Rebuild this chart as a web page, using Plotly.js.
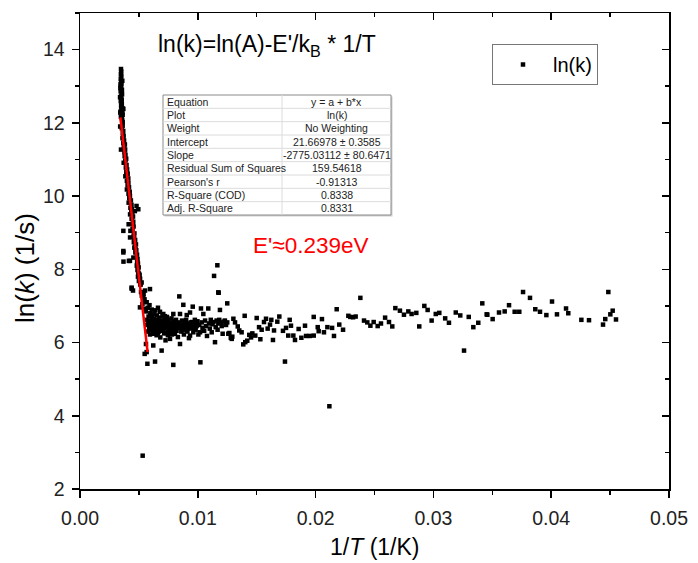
<!DOCTYPE html>
<html>
<head>
<meta charset="utf-8">
<script src="https://cdn.plot.ly/plotly-3.0.1.min.js"></script>
<style>html,body{margin:0;padding:0;background:#fff}#chart{width:698px;height:563px}</style>
</head>
<body>
<div id="chart"></div>
<script>
// ---------- data ----------
// steep region (x = 1/T in 1/K, y = ln k)
const steepX = [0.00348,0.00350,0.00347,0.00351,0.00346,0.00349,0.00352,0.00347,0.00350,0.00345,0.00353,0.00348,0.00351,0.00346,0.00355,0.00349,0.00368,0.00352,0.00345,0.00360,0.00362,0.00347,0.00355,0.00358,0.00352,0.00356,0.00344,0.00354,
0.00358,0.00362,0.00355,0.00367,0.00363,0.00370,0.00361,0.00374,0.00368,0.00381,0.00372,0.00383,0.00348,0.00377,0.00386,0.00379,0.00392,0.00384,0.00371,0.00395,0.00389,0.00400,0.00393,0.00404,0.00385,0.00410,0.00398,0.00411,0.00404,0.00416,0.00398,0.00421,0.00412,0.00424,0.00418,0.00432,0.00413,0.00437,0.00480,0.00428,0.00439,0.00466,0.00444,0.00425,0.00450,0.00438,0.00452,0.00413,0.00455,0.00446,0.00428,0.00462,0.00455,0.00425,0.00468,0.00457,0.00475,0.00466,0.00462,0.00478,0.00368,0.00470,0.00484,0.00453,0.00488,0.00415,0.00369,0.00492,0.00482,0.00498,0.00488,0.00495,0.00506,0.00492,0.00510,0.00500,0.00523,0.00514,0.00438,0.00594,0.00450,0.00552,0.00518,0.00540,0.00525,0.00536,0.00548,0.00566,0.00530,0.00509,0.00545,
0.00368,0.00424,0.00495,0.00368,0.00439,0.00365,0.00375,0.00388,0.00402,0.00420,0.00435,0.00447,0.00460,0.00472,0.00485,0.00500,0.00512,0.00528,0.00542,0.00556,
0.00357,0.00340,0.00361,0.00343,0.00359,0.00342,0.00362,0.00341];
const steepY = [13.47,13.40,13.33,13.27,13.20,13.13,13.06,12.99,12.93,12.86,12.80,12.72,12.66,12.59,12.52,12.45,12.38,12.36,12.31,12.27,12.22,12.17,12.13,12.08,12.55,12.90,13.05,12.62,
12.00,11.92,11.85,11.78,11.72,11.65,11.58,11.52,11.45,11.41,11.35,11.27,11.27,11.20,11.13,11.09,11.02,10.95,10.91,10.85,10.78,10.73,10.66,10.60,10.54,10.48,10.42,10.36,10.30,10.24,10.18,10.12,10.06,10.00,9.94,9.88,9.82,9.76,9.73,9.68,9.64,9.59,9.55,9.50,9.44,9.38,9.30,9.23,9.17,9.10,9.05,8.98,8.92,8.87,8.80,8.74,8.68,8.62,8.59,8.52,8.46,8.46,8.40,8.32,8.28,8.23,8.21,8.16,8.10,8.05,7.98,7.91,7.85,7.80,7.74,7.68,7.64,7.58,7.50,7.46,7.42,7.42,7.38,7.32,7.28,7.23,7.18,7.10,7.05,6.96,6.92,
8.50,8.23,9.64,9.05,7.47,11.62,11.30,11.00,10.62,10.10,9.62,9.25,8.85,8.55,8.20,7.88,7.60,7.30,7.12,6.88,
12.78,12.70,12.40,12.95,13.15,12.28,12.02,11.90];

// dense cluster just after the knee
const clusterX = [0.00560,0.00565,0.00571,0.00575,0.00578,0.00582,0.00585,0.00588,0.00590,0.00594,0.00597,0.00600,0.00603,0.00606,0.00609,0.00612,0.00615,0.00618,0.00622,0.00622,0.00625,0.00628,0.00631,0.00634,0.00637,0.00640,0.00643,0.00646,0.00650,0.00653,0.00656,0.00659,0.00662,0.00665,0.00668,0.00672,0.00675,0.00679,0.00682,0.00685,0.00688,0.00693,0.00696,0.00700,0.00703,0.00707,0.00710,0.00714,0.00718,0.00722,0.00726,0.00730,0.00734,0.00738,0.00742,0.00746,0.00750,0.00755,0.00760,0.00764,0.00768,0.00772,0.00777,0.00781,0.00786,0.00792,0.00796,0.00800,0.00806,0.00810,0.00815,0.00820,0.00826,0.00831,0.00837,0.00843,0.00849,0.00849,0.00854,0.00860,0.00866,0.00871,0.00877,0.00882,0.00888,0.00895,0.00901,0.00906,0.00912,0.00918,0.00925,0.00934,0.00934,0.00940,0.00947,0.00957,0.00962,0.00968,0.00975,0.00982,0.00990,0.00997,0.01005,0.01012,0.01019,0.01027,0.01033,0.01040,0.01047,0.01054,0.01062,0.01070,0.01078,0.01089,0.01095,0.01102,0.01110,0.01118,0.01125,0.01133,0.01146,0.01152,0.01160,0.01168,0.01174,0.01174,0.01182,0.01188,0.01195,0.01203,0.01211,0.01220,0.01230,0.01240,0.01250,0.01259,0.01268,0.01280,0.01288,0.01293,
0.00580,0.00592,0.00601,0.00611,0.00620,0.00630,0.00641,0.00652,0.00661,0.00671,0.00680,0.00691,0.00701,0.00712,0.00720,0.00732,0.00741,0.00752,0.00762,0.00775,0.00788,0.00799,0.00812,0.00825,0.00838,0.00852,0.00865,0.00880,0.00893,0.00908,0.00922,0.00938,0.00952,0.00966,0.00980];
const clusterY = [6.85,6.62,6.48,6.95,6.30,6.71,6.55,6.40,7.02,6.22,6.80,6.60,6.45,6.35,6.90,6.70,6.52,6.28,6.24,5.92,6.65,6.42,6.78,6.56,6.33,6.88,6.47,6.62,6.20,6.74,6.38,6.55,6.95,6.44,6.30,6.68,6.50,6.84,6.14,6.40,6.60,5.78,6.48,6.72,6.35,6.78,6.52,6.25,6.62,6.42,6.06,6.58,6.38,6.70,6.48,6.20,6.62,6.44,6.30,6.10,6.55,6.40,6.66,6.22,6.50,6.78,6.35,6.58,6.24,6.45,6.62,6.32,6.52,6.15,6.40,7.26,6.78,5.96,6.48,6.30,6.60,6.38,7.03,6.22,6.50,6.42,6.62,6.75,6.30,6.48,6.12,6.82,6.19,6.55,6.40,6.98,6.28,6.50,6.62,6.35,6.45,6.58,6.22,6.48,6.28,6.93,6.55,6.40,6.78,6.32,6.60,6.45,6.18,6.93,6.52,6.38,6.62,6.28,6.50,6.56,6.01,6.42,6.60,6.35,7.37,6.52,6.62,6.89,6.55,6.45,6.24,6.57,6.60,6.48,7.07,6.24,6.26,6.13,6.10,6.16,
6.58,6.38,6.75,6.44,6.58,6.28,6.52,6.46,6.25,6.36,6.58,6.32,6.55,6.40,6.72,6.26,6.55,6.34,6.50,6.32,6.42,6.48,6.36,6.42,6.55,6.40,6.48,6.55,6.35,6.52,6.38,6.46,6.56,6.40,6.52];

// sparse tail towards low temperature
const tailX = [0.01166,0.01138,0.01177,0.01398,0.01740,0.02179,0.02380,0.01984,0.02054,0.03260,0.03415,0.03452,0.02923,0.02951,0.02677,0.02716,0.02750,0.02787,0.02815,0.02855,0.02880,0.02985,0.03020,0.03050,0.03100,0.03132,0.03190,0.03228,0.03300,0.03339,0.03381,0.02278,0.02295,0.02318,0.02340,0.02411,0.02439,0.02465,0.02493,0.02527,0.02555,0.02590,0.02623,0.02651,0.02201,0.02233,0.02156,0.02140,0.02100,0.02071,0.02026,0.02018,0.01984,0.01950,0.01919,0.01879,0.01910,0.01856,0.01825,0.01811,0.01791,0.01768,0.01780,0.01749,0.01723,0.01692,0.01675,0.01638,0.01647,0.01624,0.01613,0.01593,0.01579,0.01562,0.01542,0.01531,0.01520,0.01500,0.01488,0.01463,0.01452,0.01437,0.01420,0.01403,0.01386,0.01372,0.01352,0.01339,0.01316,0.01302,0.01250,
0.03458,0.03503,0.03557,0.03605,0.03642,0.03690,0.03729,0.03761,0.03820,0.03865,0.03905,0.03959,0.04007,0.04049,0.04126,0.04145,0.04256,0.04321,0.04440,0.04459,0.04485,0.04502,0.04522,0.04550];
const tailY = [8.11,7.82,7.36,6.73,5.48,6.91,7.22,6.70,6.64,5.78,7.07,6.77,7.00,6.89,6.94,6.87,6.76,6.85,6.78,6.81,6.44,6.60,6.78,6.81,6.66,6.54,6.82,6.74,6.70,6.42,6.54,6.73,6.70,6.69,6.71,6.60,6.55,6.46,6.56,6.45,6.52,6.68,6.56,6.44,6.49,6.35,6.18,6.40,6.42,6.28,6.31,6.42,6.19,6.18,6.18,6.13,6.46,6.37,6.07,6.19,6.46,6.19,6.62,6.40,6.32,6.71,6.57,6.07,6.33,6.62,6.49,6.38,6.65,6.56,6.35,6.09,6.42,6.67,6.19,6.25,6.14,6.21,6.05,6.01,5.95,6.28,6.33,6.44,6.55,6.65,6.55,
6.76,6.64,6.82,6.85,7.02,6.84,6.84,7.38,7.22,6.91,6.84,6.75,7.12,6.77,6.93,6.80,6.62,6.61,6.49,6.64,7.38,6.77,6.87,6.63];

// low outliers
const outlierX = [0.00532,0.02117,0.00572,0.00637,0.00792,0.01022,0.00566,0.00549,0.00560];
const outlierY = [2.91,4.26,5.42,5.48,5.39,5.46,5.74,5.69,5.96];

// linear fit y = a + b*x
const fitIntercept = 21.66978;
const fitSlope = -2775.03112;
const fitRange = [0.00343, 0.00574];

// fit statistics table
const tableLabels = ["Equation","Plot","Weight","Intercept","Slope","Residual Sum of Squares","Pearson's r","R-Square (COD)","Adj. R-Square"];
const tableValues = ["y = a + b*x","ln(k)","No Weighting","21.66978 ± 0.3585","-2775.03112 ± 80.6471","159.54618","-0.91313","0.8338","0.8331"];

// ---------- layout helpers ----------
const W = 698, H = 563;
const PL = 80, PR = 669, PT = 13, PB = 489;
const fx = px => (px - PL) / (PR - PL);
const fy = py => (PB - py) / (PB - PT);
const FONT = 'Liberation Sans, Arial, sans-serif';

const allX = steepX.concat(clusterX, tailX, outlierX);
const allY = steepY.concat(clusterY, tailY, outlierY);

const scatter = {
  x: allX, y: allY, type: 'scatter', mode: 'markers', name: 'ln(k)',
  marker: {symbol: 'square', size: 4.5, color: '#000'},
  hoverinfo: 'skip'
};
const fitLine = {
  x: fitRange, y: fitRange.map(v => fitIntercept + fitSlope * v),
  type: 'scatter', mode: 'lines', showlegend: false,
  line: {color: '#ff0000', width: 2.5}
};
const dummy = {x: [0], y: [0], xaxis: 'x2', yaxis: 'y2', showlegend: false, type: 'scatter', mode: 'markers', marker: {opacity: 0}};

// table geometry (pixels)
const tL = 163, tR = 391, tT = 95, tB = 215, tMid = 282;
const rowH = (tB - tT) / tableLabels.length;
const shapes = [
  {type: 'rect', xref: 'paper', yref: 'paper', x0: fx(tL + 1.5), x1: fx(tR + 1.5), y0: fy(tB + 1.5), y1: fy(tT + 1.5), fillcolor: '#d0d0d0', line: {width: 0}, layer: 'above'},
  {type: 'rect', xref: 'paper', yref: 'paper', x0: fx(tL), x1: fx(tR), y0: fy(tB), y1: fy(tT), fillcolor: '#ffffff', line: {color: '#8a8a8a', width: 1}, layer: 'above'},
  {type: 'line', xref: 'paper', yref: 'paper', x0: fx(tMid), x1: fx(tMid), y0: fy(tB), y1: fy(tT), line: {color: '#dcdcdc', width: 1}, layer: 'above'}
];
for (let i = 1; i < tableLabels.length; i++) {
  shapes.push({type: 'line', xref: 'paper', yref: 'paper', x0: fx(tL), x1: fx(tR), y0: fy(tT + i * rowH), y1: fy(tT + i * rowH), line: {color: '#dcdcdc', width: 1}, layer: 'above'});
}
const annotations = [];
tableLabels.forEach((t, i) => {
  const yc = fy(tT + (i + 0.5) * rowH);
  annotations.push({xref: 'paper', yref: 'paper', x: fx(tL + 2), y: yc, xanchor: 'left', yanchor: 'middle', text: t, showarrow: false, font: {family: FONT, size: 10.5, color: '#222'}});
  annotations.push({xref: 'paper', yref: 'paper', x: fx((tMid + tR) / 2), y: yc, xanchor: 'center', yanchor: 'middle', text: tableValues[i], showarrow: false, font: {family: FONT, size: 10.5, color: '#222'}});
});
annotations.push({xref: 'paper', yref: 'paper', x: fx(156), y: fy(46), xanchor: 'left', yanchor: 'middle', showarrow: false,
  text: "ln(k)=ln(A)-E'/k<sub>B</sub> * 1/T", font: {family: FONT, size: 23, color: '#000'}});
annotations.push({xref: 'paper', yref: 'paper', x: fx(251), y: fy(245), xanchor: 'left', yanchor: 'middle', showarrow: false,
  text: "E'≈0.239eV", font: {family: FONT, size: 22.5, color: '#ff0000'}});
annotations.push({xref: 'paper', yref: 'paper', x: fx(374), y: fy(547), xanchor: 'center', yanchor: 'middle', showarrow: false,
  text: "1/<i>T</i> (1/K)", font: {family: FONT, size: 23, color: '#000'}});
annotations.push({xref: 'paper', yref: 'paper', x: fx(25), y: fy(268), xanchor: 'center', yanchor: 'middle', showarrow: false, textangle: -90,
  text: "ln(<i>k</i>) (1/s)", font: {family: FONT, size: 26, color: '#000'}});

const axBase = {showgrid: false, zeroline: false, linecolor: '#000', linewidth: 1.5, tickcolor: '#000', tickwidth: 1.5};
const layout = {
  width: W, height: H,
  margin: {l: PL, r: W - PR, t: PT, b: H - PB, pad: 0},
  paper_bgcolor: '#fff', plot_bgcolor: '#fff',
  font: {family: FONT, color: '#000'},
  xaxis: Object.assign({}, axBase, {range: [0, 0.05], dtick: 0.01, tick0: 0, tickformat: '.2f', showline: true, mirror: true,
    ticks: 'outside', ticklen: 7, ticklabelstandoff: 4, tickfont: {size: 19.5, family: FONT, color: '#222'},
    minor: {dtick: 0.005, ticks: 'outside', ticklen: 4, tickwidth: 1.5, tickcolor: '#000'}}),
  yaxis: Object.assign({}, axBase, {range: [2, 15], dtick: 2, tick0: 2, showline: true, mirror: true,
    ticks: 'outside', ticklen: 7, ticklabelstandoff: 3, tickfont: {size: 19.5, family: FONT, color: '#222'},
    minor: {dtick: 1, ticks: 'outside', ticklen: 4, tickwidth: 1.5, tickcolor: '#000'}}),
  xaxis2: Object.assign({}, axBase, {overlaying: 'x', side: 'top', range: [0, 0.05], dtick: 0.01, tick0: 0, showline: false,
    ticks: 'inside', ticklen: 7, showticklabels: false, anchor: 'y2',
    minor: {dtick: 0.005, ticks: 'inside', ticklen: 4, tickwidth: 1.5, tickcolor: '#000'}}),
  yaxis2: Object.assign({}, axBase, {overlaying: 'y', side: 'right', range: [2, 15], dtick: 2, tick0: 2, showline: false,
    ticks: 'inside', ticklen: 7, showticklabels: false, anchor: 'x2',
    minor: {dtick: 1, ticks: 'inside', ticklen: 4, tickwidth: 1.5, tickcolor: '#000'}}),
  showlegend: true,
  legend: {x: fx(492), y: fy(44), xanchor: 'left', yanchor: 'top', bgcolor: '#fff', bordercolor: '#777', borderwidth: 1,
    font: {family: FONT, size: 20, color: '#000'}, itemwidth: 50},
  shapes: shapes,
  annotations: annotations
};

Plotly.newPlot('chart', [scatter, fitLine, dummy], layout, {staticPlot: true, displayModeBar: false});
</script>
</body>
</html>
